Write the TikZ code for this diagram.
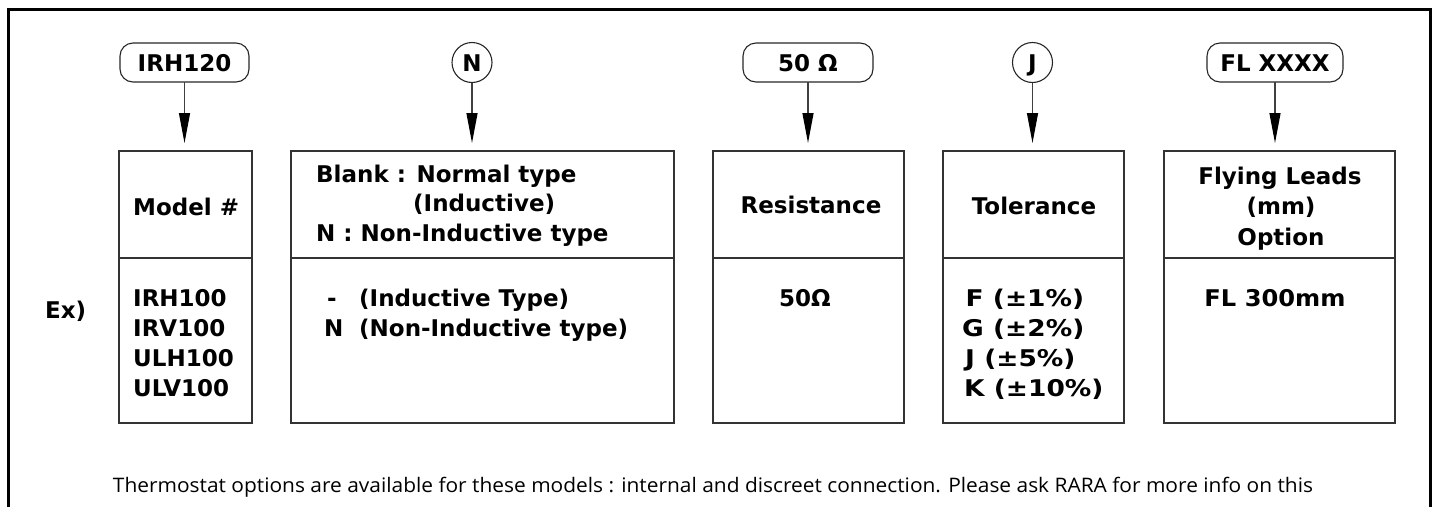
\documentclass[tikz,border=0pt]{standalone}
\usepackage{fontspec}
\usepackage{graphicx}
\setmainfont{DejaVu Sans}
\newfontfamily\notefont{Open Sans}
\usetikzlibrary{arrows.meta}
\tikzset{
  frameline/.style={line width=3pt, black, line join=miter},
  box/.style={draw=black!80, line width=1.3pt, inner sep=0pt, outer sep=0pt, anchor=north west},
  divider/.style={draw=black!80, line width=1.8pt},
  pill/.style={draw=black!85, line width=1.1pt, rounded corners=13pt, inner sep=0pt, outer sep=0pt,
    minimum height=39pt, text height=17pt, text depth=0pt, font=\fontsize{23}{28}\selectfont\bfseries},
  disc/.style={draw=black!85, line width=1.1pt, circle, inner sep=0pt, outer sep=0pt,
    minimum size=40pt, text height=17pt, text depth=0pt, font=\fontsize{23}{28}\selectfont\bfseries},
  lbl/.style={font=\fontsize{23}{28}\selectfont\bfseries, inner sep=0pt, anchor=base},
  lblw/.style={lbl, anchor=base west},
  arr/.style={draw=black!75, line width=1.2pt, -{Triangle[length=30pt,width=11pt,black]}, shorten >=8pt},
}
\newcommand{\wideTol}[1]{\scalebox{1.15}[1]{#1}}
\begin{document}
\begin{tikzpicture}[x=1pt,y=-1pt]
\useasboundingbox (0,0) rectangle (1436,507);
% outer frame
\draw[frameline] (8.5,507) -- (8.5,9.5) -- (1430.5,9.5) -- (1430.5,507);

% code pills
\node[pill, minimum width=129pt] (p1) at (184.5,62.5) {IRH120};
\node[disc] (p2) at (472,62.5) {N};
\node[pill, minimum width=130pt] (p3) at (808,62.5) {50 Ω};
\node[disc] (p4) at (1032.5,62.5) {J};
\node[pill, minimum width=136pt] (p5) at (1275,62.5) {FL XXXX};

% boxes
\node[box, minimum width=133pt, minimum height=272pt] (b1) at (119,151) {};
\node[box, minimum width=383pt, minimum height=272pt] (b2) at (291,151) {};
\node[box, minimum width=191pt, minimum height=272pt] (b3) at (713,151) {};
\node[box, minimum width=181pt, minimum height=272pt] (b4) at (943,151) {};
\node[box, minimum width=231pt, minimum height=272pt] (b5) at (1164,151) {};

\foreach \b in {b1,b2,b3,b4,b5}{
  \draw[divider] (\b.west |- 0,258) -- (\b.east |- 0,258);
}

% arrows
\draw[arr] (p1.south) -- (p1.south |- b1.north);
\draw[arr] (p2.south) -- (p2.south |- b2.north);
\draw[arr] (p3.south) -- (p3.south |- b3.north);
\draw[arr] (p4.south) -- (p4.south |- b4.north);
\draw[arr] (p5.south) -- (p5.south |- b5.north);

% Ex)
\node[lblw] (ex) at (45,318) {Ex)};

% column 1
\node[lblw] (m0) at (133,215) {Model \#};
\node[lblw] (m1) at (133,306) {IRH100};
\node[lblw] (m2) at (133,336) {IRV100};
\node[lblw] (m3) at (133,366.5) {ULH100};
\node[lblw] (m4) at (133,396.5) {ULV100};

% column 2
\node[lblw] (n0) at (316,182) {Blank : Normal type};
\node[lblw] (n1) at (413,211) {(Inductive)};
\node[lblw] (n2) at (316,241) {N : Non-Inductive type};
\node[lblw] (n3) at (327,306.5) {-};
\node[lblw] (n4) at (359,306.5) {(Inductive Type)};
\node[lblw] (n5) at (324,336.5) {N};
\node[lblw] (n6) at (359,336.5) {(Non-Inductive type)};

% column 3
\node[lbl] (r0) at (811,213.5) {Resistance};
\node[lbl] (r1) at (805,306) {50Ω};

% column 4
\node[lbl] (t0) at (1034,214) {Tolerance};
\node[lblw] (t1) at (965.5,306) {\wideTol{F (±1\%)}};
\node[lblw] (t2) at (962,336) {\wideTol{G (±2\%)}};
\node[lblw] (t3) at (965,366) {\wideTol{J (±5\%)}};
\node[lblw] (t4) at (964,396.5) {\wideTol{K (±10\%)}};

% column 5
\node[lbl] (f0) at (1280,184) {Flying Leads};
\node[lbl] (f1) at (1281,214) {(mm)};
\node[lbl] (f2) at (1281,245) {Option};
\node[lbl] (f3) at (1275,306) {\scalebox{1.05}[1]{FL 300mm}};

% note
\node[inner sep=0pt, anchor=base] (note) at (713,492) {\notefont\fontsize{20}{24}\selectfont\resizebox{1200pt}{\height}{Thermostat options are available for these models : internal and discreet connection. Please ask RARA for more info on this}};
\end{tikzpicture}
\end{document}
